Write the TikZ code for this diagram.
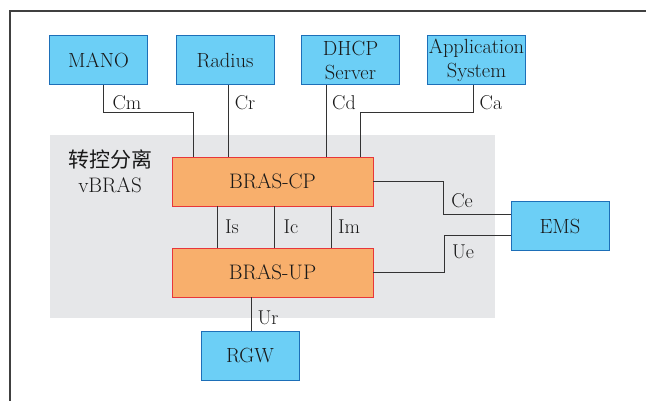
\documentclass[tikz,border=0pt]{standalone}
\usepackage{fontspec}
\usepackage{xcolor}
\newfontfamily\cjk{Noto Sans CJK SC}
\definecolor{boxblue}{HTML}{6CCFF6}
\definecolor{edgeblue}{HTML}{1D6FB8}
\definecolor{boxorange}{HTML}{F8AF6C}
\definecolor{edgered}{HTML}{E8363A}
\definecolor{areagray}{HTML}{E6E7E9}
\definecolor{linegray}{HTML}{333333}
\tikzset{
  netbox/.style={draw=edgeblue, fill=boxblue, line width=1pt, minimum width=98pt, minimum height=49pt, inner sep=0pt, align=center, font=\fontsize{20.5}{24}\selectfont, text=black!90},
  brasbox/.style={draw=edgered, fill=boxorange, line width=0.8pt, minimum width=201pt, minimum height=49pt, inner sep=0pt, font=\fontsize{21}{22}\selectfont, text=black!90},
  iflabel/.style={font=\fontsize{20}{20}\selectfont, text=black!90},
  link/.style={draw=linegray, line width=1pt}
}
\begin{document}
\begin{tikzpicture}[x=1pt, y=-1pt]
\useasboundingbox (0,0) rectangle (646,401);
\draw[line width=1.5pt, black!75] (10,401) -- (10,11) -- (646,11);
\fill[areagray] (50,135) rectangle (495,318);
\node[align=center, font=\fontsize{21}{25}\selectfont, text=black!90] (vbras) at (110,171) {{\cjk 转控分离}\\vBRAS};

\node[netbox] (mano) at (98.5,60.5) {MANO};
\node[netbox] (radius) at (225,60.5) {Radius};
\node[netbox] (dhcp) at (350.5,60.5) {DHCP\\Server};
\node[netbox] (app) at (476.5,60.5) {Application\\System};
\node[brasbox] (cp) at (272.5,181.5) {BRAS-CP};
\node[brasbox] (up) at (272.5,272.5) {BRAS-UP};
\node[netbox] (ems) at (560,226.5) {EMS};
\node[netbox] (rgw) at (250,355.5) {RGW};

\draw[link] ([xshift=4.5]mano.south) -- ++(0,27) -| ([xshift=-79.5]cp.north);
\draw[link] ([xshift=3]radius.south) -- ([xshift=3]radius.south |- cp.north);
\draw[link] ([xshift=-24.5]dhcp.south) -- ([xshift=-24.5]dhcp.south |- cp.north);
\draw[link] ([xshift=-3.5]app.south) -- ++(0,27) -| ([xshift=87.5]cp.north);
\draw[link] ([xshift=-55.5]cp.south) -- ([xshift=-55.5]up.north);
\draw[link] ([xshift=1.5]cp.south) -- ([xshift=1.5]up.north);
\draw[link] ([xshift=58.5]cp.south) -- ([xshift=58.5]up.north);
\draw[link] ([xshift=-21.5]up.south) -- ([xshift=-21.5]up.south |- rgw.north);
\draw[link] (cp.east) -- (443,181.5) |- ([yshift=11.5]ems.west);
\draw[link] (up.east) -- (444,272.5) |- ([yshift=-9.5]ems.west);

\node[iflabel] (cm) at (127,103) {Cm};
\node[iflabel] (cr) at (245,103) {Cr};
\node[iflabel] (cd) at (344,103) {Cd};
\node[iflabel] (ca) at (491,103) {Ca};
\node[iflabel] (is) at (232,227) {Is};
\node[iflabel] (ic) at (291,227) {Ic};
\node[iflabel] (im) at (349,227) {Im};
\node[iflabel] (ur) at (268,318) {Ur};
\node[iflabel] (ce) at (462,201) {Ce};
\node[iflabel] (ue) at (463,252) {Ue};
\end{tikzpicture}
\end{document}
